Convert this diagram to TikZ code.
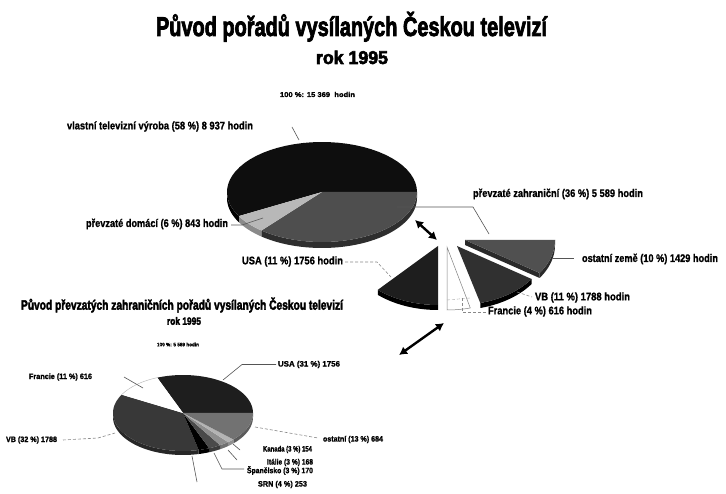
\documentclass[tikz,border=0pt]{standalone}
\usepackage{fontspec}
\setmainfont{Liberation Sans}
\newfontfamily\heavy{Liberation Sans}[FakeBold=3.2]
\newfontfamily\labf{Liberation Sans}[FakeBold=1.3]
\usetikzlibrary{arrows.meta}
\definecolor{vlc}{HTML}{0E0E0E}
\definecolor{zahc}{HTML}{4E4E4E}
\definecolor{zahrim}{HTML}{2E2E2E}
\definecolor{domc}{HTML}{B8B8B8}
\definecolor{domrim}{HTML}{8A8A8A}
\definecolor{usac}{HTML}{1E1E1E}
\definecolor{vbc}{HTML}{303030}
\definecolor{ostc}{HTML}{505050}
\definecolor{ostrim}{HTML}{2A2A2A}
\definecolor{svb}{HTML}{383838}
\definecolor{ssp}{HTML}{4A4A4A}
\definecolor{sit}{HTML}{8E8E8E}
\definecolor{skan}{HTML}{B4B4B4}
\definecolor{sost}{HTML}{727272}
\definecolor{leadc}{HTML}{555555}
\newcommand\lab[3]{\resizebox{#1}{\height}{\fontsize{#2}{#2}\selectfont\labf\bfseries #3}}
\newcommand\hlab[3]{\resizebox{#1}{\height}{\fontsize{#2}{#2}\selectfont\heavy\bfseries #3}}
% top face of a slice: cx cy rx ry a b style
\newcommand\ptop[7]{\fill[#7] (#1,#2) -- plot[domain=#5:#6,samples=40] ({#1+#3*cos(\x)},{#2+#4*sin(\x)}) -- cycle;}
% rim of a slice: cx cy rx ry a b thickness style
\newcommand\prim[8]{\fill[#8] plot[domain=#5:#6,samples=40] ({#1+#3*cos(\x)},{#2+#4*sin(\x)}) -- plot[domain=#6:#5,samples=40] ({#1+#3*cos(\x)},{#2+#7+#4*sin(\x)}) -- cycle;}
\tikzset{
  txt/.style={inner sep=0pt, outer sep=0pt, anchor=west},
  lead/.style={draw=leadc, line width=0.6pt},
  dlead/.style={draw=leadc!70, line width=0.6pt, densely dashed},
  dbl/.style={line width=2.4pt, {Latex[length=8pt,width=9pt]}-{Latex[length=8pt,width=9pt]}}
}
\begin{document}
\begin{tikzpicture}[x=1pt,y=-1pt]
\useasboundingbox (0,0) rectangle (726,494);
\fill[white] (0,0) rectangle (726,494);

% ---------- titles ----------
\node[txt, anchor=base west] (title) at (156,36) {\hlab{391pt}{27pt}{Původ pořadů vysílaných Českou televizí}};
\node[txt, anchor=base west] (rok1) at (316,64) {\hlab{72pt}{18.5pt}{rok 1995}};
\node[txt, anchor=base west] (tot1) at (280,97) {\lab{75pt}{7pt}{100 \%: 15 369~ hodin}};

% ---------- main pie ----------
\prim{322}{192}{95}{50}{0}{129.6}{6}{zahrim}
\prim{322}{192}{95}{50}{129.6}{151.2}{6}{domrim}
\prim{322}{192}{95}{50}{151.2}{180}{6}{black}
\ptop{322}{192}{95}{50}{-208.8}{0}{vlc}
\ptop{322}{192}{95}{50}{0}{129.6}{zahc}
\ptop{322}{192}{95}{50}{129.6}{151.2}{domc}

\node[txt] (vl) at (67,126.5) {\lab{186pt}{11pt}{vlastní televizní výroba (58 \%) 8 937 hodin}};
\node[txt] (dom) at (86,224) {\lab{142pt}{11pt}{převzaté domácí (6 \%) 843 hodin}};
\node[txt] (zah) at (473,194) {\lab{170pt}{11pt}{převzaté zahraniční (36 \%) 5 589 hodin}};

\coordinate (vl1) at (292,127); \coordinate (vl2) at (299,140);
\draw[lead] (vl1) -- (vl2);
\coordinate (do1) at (231,225); \coordinate (do2) at (242,225); \coordinate (do3) at (263,218);
\draw[lead] (do1) -- (do2) -- (do3);
\coordinate (za1) at (397,207); \coordinate (za2) at (473,207); \coordinate (za3) at (489,234);
\draw[lead] (za1) -- (za2) -- (za3);

% ---------- exploded slice ----------
% ostatni zeme
\prim{465}{240}{90}{59}{0}{34}{5}{ostrim}
\fill[ostrim] (465,240) -- (539.6,273) -- (539.6,278) -- (465,245) -- cycle;
\ptop{465}{240}{90}{59}{0}{34}{ostc}
% VB
\prim{457}{246}{90}{59}{34}{75}{5}{black}
\ptop{457}{246}{90}{59}{34}{75}{vbc}
% Francie
\prim{447}{247}{90}{59}{75}{90}{4}{white}
\draw[gray, line width=0.5pt] (447,247) -- (447,310) -- plot[domain=90:75,samples=10] ({447+90*cos(\x)},{251+59*sin(\x)}) -- cycle;
\draw[gray!70, line width=0.4pt, densely dashed] (447,300) -- (470,298);
% USA
\prim{438}{246}{90}{59}{90}{132}{5}{black}
\ptop{438}{246}{90}{59}{90}{132}{usac}

\node[txt] (usa1) at (242,261.5) {\lab{101pt}{11pt}{USA (11 \%) 1756 hodin}};
\node[txt] (oz) at (582,259) {\lab{136pt}{11pt}{ostatní země (10 \%) 1429 hodin}};
\node[txt] (vb1) at (535,297.5) {\lab{95pt}{11pt}{VB (11 \%) 1788 hodin}};
\node[txt] (fr1) at (488,311.5) {\lab{104pt}{11pt}{Francie (4 \%) 616 hodin}};

\coordinate (oz1) at (553,258); \coordinate (oz2) at (574,258);
\draw[lead] (oz1) -- (oz2);
\coordinate (vb1a) at (517,292); \coordinate (vb1b) at (532,297);
\draw[dlead] (vb1a) -- (vb1b);
\coordinate (fra) at (462,298); \coordinate (frb) at (462,312); \coordinate (frc) at (486,312);
\draw[dlead] (fra) -- (frb) -- (frc);
\coordinate (us1) at (345,262); \coordinate (us2) at (377,262); \coordinate (us3) at (391,277);
\draw[dlead] (us1) -- (us2) -- (us3);

% arrows
\coordinate (a1) at (415,220); \coordinate (a2) at (437,240);
\draw[dbl] (a1) -- (a2);
\coordinate (b1) at (399,355); \coordinate (b2) at (444,323);
\draw[dbl] (b1) -- (b2);

% ---------- second title ----------
\node[txt] (title2) at (21,305) {\hlab{322pt}{13.5pt}{Původ převzatých zahraničních pořadů vysílaných Českou televizí}};
\node[txt] (rok2) at (167,321) {\hlab{34pt}{10.5pt}{rok 1995}};
\node[txt] (tot2) at (157,344.5) {\lab{42pt}{5pt}{100 \%: 5 589 hodin}};

% ---------- small pie ----------
\prim{183}{413}{70}{38}{0}{44}{4}{sost!80!black}
\prim{183}{413}{70}{38}{44}{50}{4}{skan!80!black}
\prim{183}{413}{70}{38}{50}{58}{4}{sit!80!black}
\prim{183}{413}{70}{38}{58}{68}{4}{ssp!80!black}
\prim{183}{413}{70}{38}{68}{77}{4}{black}
\prim{183}{413}{70}{38}{77}{180}{4}{svb!70!black}
\ptop{183}{413}{70}{38}{-111.6}{0}{usac}
\ptop{183}{413}{70}{38}{77}{208.8}{svb}
\ptop{183}{413}{70}{38}{68}{77}{black}
\ptop{183}{413}{70}{38}{58}{68}{ssp}
\ptop{183}{413}{70}{38}{50}{58}{sit}
\ptop{183}{413}{70}{38}{44}{50}{skan}
\ptop{183}{413}{70}{38}{0}{44}{sost}
\ptop{183}{413}{70}{38}{-151.2}{-111.6}{white}
\draw[gray!60, line width=0.4pt] plot[domain=-151.2:-111.6,samples=20] ({183+70*cos(\x)},{413+38*sin(\x)});

\node[txt] (susa) at (278,364.5) {\lab{62pt}{7.8pt}{USA (31 \%) 1756}};
\node[txt] (sfr) at (29,377) {\lab{63pt}{7.8pt}{Francie (11 \%) 616}};
\node[txt] (svbl) at (6,440) {\lab{51pt}{7.8pt}{VB (32 \%) 1788}};
\node[txt] (sost) at (323,439.5) {\lab{60pt}{7.8pt}{ostatní (13 \%) 684}};
\node[txt] (skan) at (263,449.5) {\lab{49pt}{7.8pt}{Kanada (3 \%) 154}};
\node[txt] (sit) at (267,462.5) {\lab{46pt}{7.8pt}{Itálie (3 \%) 168}};
\node[txt] (ssp) at (247,470.5) {\lab{66pt}{7.8pt}{Španělsko (3 \%) 170}};
\node[txt] (ssrn) at (258,484.5) {\lab{49pt}{7.8pt}{SRN (4 \%) 253}};

\coordinate (su1) at (223,380); \coordinate (su2) at (242,364.5); \coordinate (su3) at (276,364.5);
\draw[lead] (su1) -- (su2) -- (su3);
\coordinate (sf1) at (124,377); \coordinate (sf2) at (143,388);
\draw[lead] (sf1) -- (sf2);
\coordinate (sv1) at (63,440); \coordinate (sv2) at (98,438); \coordinate (sv3) at (115,433);
\draw[dlead] (sv1) -- (sv2) -- (sv3);
\coordinate (so1) at (255,427); \coordinate (so2) at (318,438);
\draw[dlead] (so1) -- (so2);
\coordinate (sk1) at (233,444); \coordinate (sk2) at (240,450);
\draw[lead] (sk1) -- (sk2);
\coordinate (si1) at (228,450); \coordinate (si2) at (237,460);
\draw[lead] (si1) -- (si2);
\coordinate (ss1) at (214,453); \coordinate (ss2) at (222,469); \coordinate (ss3) at (244,469);
\draw[lead] (ss1) -- (ss2) -- (ss3);
\coordinate (sr1) at (192,456); \coordinate (sr2) at (197,482);
\draw[lead] (sr1) -- (sr2);
\end{tikzpicture}
\end{document}
